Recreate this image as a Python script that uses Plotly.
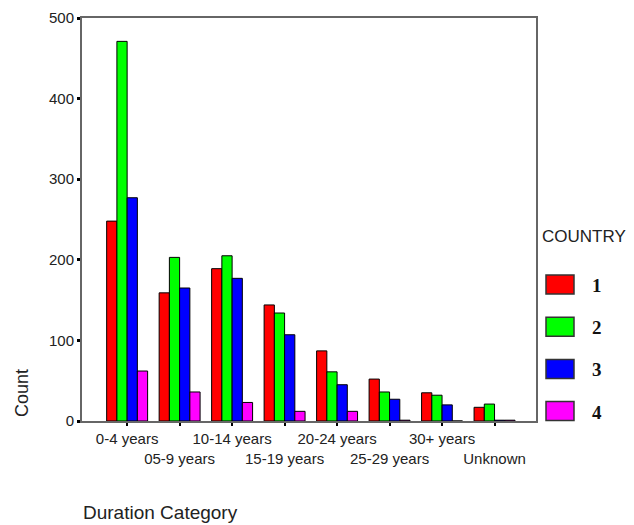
import plotly.graph_objects as go

categories = ["0-4 years", "05-9 years", "10-14 years", "15-19 years",
              "20-24 years", "25-29 years", "30+ years", "Unknown"]
country_names = ["1", "2", "3", "4"]
country_1 = [248, 159, 189, 144, 87, 52, 35, 17]
country_2 = [471, 203, 205, 134, 61, 36, 32, 21]
country_3 = [277, 165, 177, 107, 45, 27, 20, 1]
country_4 = [62, 36, 23, 12, 12, 1, 0, 1]
colors = ["#FF0000", "#00FF00", "#0000FF", "#FF00FF"]
y_ticks = [0, 100, 200, 300, 400, 500]

series = [country_1, country_2, country_3, country_4]

# the page body has an 8px default margin; lay out in page pixels
OFF = 8
W, H = 634 - OFF, 525 - OFF
plot_left, plot_right, plot_top, plot_bottom = 82, 536, 18, 421
L = plot_left - OFF
T = plot_top - OFF
R = W - (plot_right - OFF)
B = H - (plot_bottom - OFF)
pw, ph = W - L - R, H - T - B


def px_to_paper(x, y):
    """page pixel -> paper coordinates"""
    return (x - OFF - L) / pw, (H - B - (y - OFF)) / ph


fig = go.Figure()
for name, vals, col in zip(country_names, series, colors):
    fig.add_trace(go.Bar(
        x=list(range(len(categories))), y=vals, name=name,
        marker=dict(color=col, line=dict(color="black", width=1)),
        showlegend=False,
    ))

# staggered tick labels
ticktext = [c if i % 2 == 0 else "<br>" + c for i, c in enumerate(categories)]

font_main = "Liberation Sans, Arial, sans-serif"

fig.update_layout(
    width=W, height=H,
    margin=dict(l=L, r=R, t=T, b=B, autoexpand=False),
    paper_bgcolor="white", plot_bgcolor="white",
    barmode="group", bargap=0.22, bargroupgap=0,
    font=dict(family=font_main, size=15, color="#222"),
    xaxis=dict(
        range=[-0.86, 7.79],
        tickmode="array", tickvals=list(range(len(categories))), ticktext=ticktext,
        tickangle=0, automargin=False,
        ticks="outside", ticklen=3, tickwidth=2, tickcolor="black",
        showline=True, linecolor="#666", linewidth=2, mirror=True,
        showgrid=False, zeroline=False,
        tickfont=dict(size=15, color="#222"),
    ),
    yaxis=dict(
        range=[0, 500], automargin=False,
        tickmode="array", tickvals=y_ticks,
        ticks="outside", ticklen=3, tickwidth=3, tickcolor="black",
        showline=True, linecolor="#666", linewidth=2, mirror=True,
        showgrid=False, zeroline=False,
        tickfont=dict(size=15, color="#222"),
    ),
)

annotations = []
shapes = []

# axis titles
ax, ay = px_to_paper(22, 393)
annotations.append(dict(text="Count", x=ax, y=ay, xref="paper", yref="paper",
                        showarrow=False, textangle=-90,
                        font=dict(size=18, color="#222", family=font_main),
                        xanchor="center", yanchor="middle"))
ax, ay = px_to_paper(81, 512)
annotations.append(dict(text="Duration Category", x=ax, y=ay, xref="paper", yref="paper",
                        showarrow=False,
                        font=dict(size=19, color="#222", family=font_main),
                        xanchor="left", yanchor="middle"))

# legend
ax, ay = px_to_paper(540, 236)
annotations.append(dict(text="COUNTRY", x=ax, y=ay, xref="paper", yref="paper",
                        showarrow=False,
                        font=dict(size=17, color="#222", family=font_main),
                        xanchor="left", yanchor="middle"))
leg_y0, leg_dy = 284.5, 42.2
for i, (name, col) in enumerate(zip(country_names, colors)):
    cy = leg_y0 + i * leg_dy
    x0, y0 = px_to_paper(546, cy + 9.5)
    x1, y1 = px_to_paper(574, cy - 9.5)
    shapes.append(dict(type="rect", xref="paper", yref="paper",
                       x0=x0, x1=x1, y0=y0, y1=y1,
                       fillcolor=col, line=dict(color="#333", width=1.5)))
    tx, ty = px_to_paper(597, cy + 1)
    annotations.append(dict(text="<b>" + name + "</b>", x=tx, y=ty,
                            xref="paper", yref="paper", showarrow=False,
                            font=dict(size=19, color="#111",
                                      family="Liberation Serif, Times New Roman, serif"),
                            xanchor="center", yanchor="middle"))

fig.update_layout(annotations=annotations, shapes=shapes)

fig.write_html("out.html")
